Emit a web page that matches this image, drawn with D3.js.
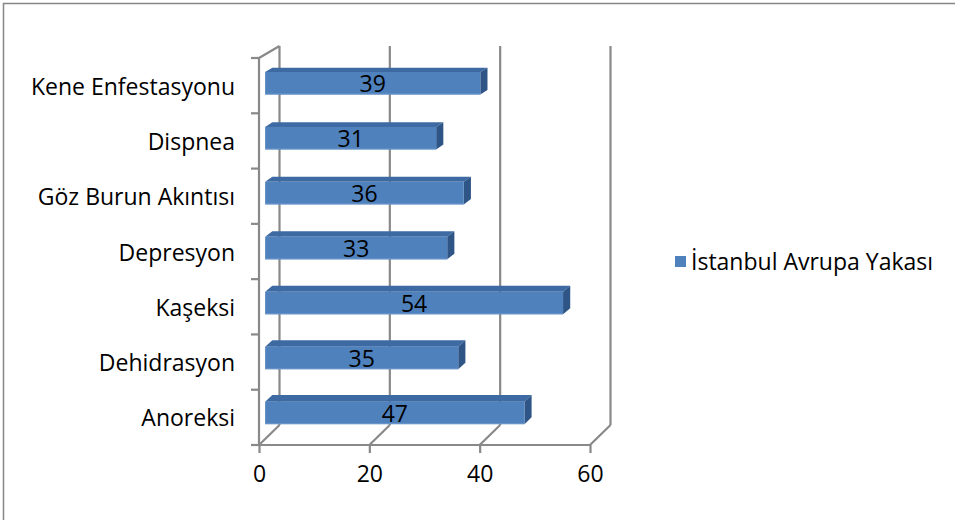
<!DOCTYPE html>
<html>
<head>
<meta charset="utf-8">
<script src="https://cdn.jsdelivr.net/npm/d3@7"></script>
<style>
  body { margin: 0; background: #fff; }
  svg { display: block; font-family: "Open Sans", "Noto Sans", sans-serif; }
</style>
</head>
<body>
<svg id="chart" width="955" height="520"></svg>
<script>
// data (top to bottom)
const categories = ['Kene Enfestasyonu', 'Dispnea', 'Göz Burun Akıntısı', 'Depresyon', 'Kaşeksi', 'Dehidrasyon', 'Anoreksi']
const values = [39, 31, 36, 33, 54, 35, 47]
const xTicks = [0, 20, 40, 60]
const seriesName = 'İstanbul Avrupa Yakası'

const svg = d3.select('#chart')
const gridColor = '#898989'
const fontSize = 23

const x = d3.scaleLinear().domain([0, 60]).range([259, 590])
const y = d3.scaleBand().domain(categories).range([58, 445])

// depth of the 3d box: x shift is constant, y shift grows toward the bottom
const DX = 20.5
function dyAt(yy) {
  return -12 - 8 * (yy - 58) / (445 - 58)
}
function proj(v, yy, t) {
  return [x(v) + t * DX, yy + t * dyAt(yy)]
}

// outer frame
svg.append('rect')
  .attr('x', 3.5).attr('y', 3.5)
  .attr('width', 970).attr('height', 540)
  .attr('fill', 'none').attr('stroke', '#868686').attr('stroke-width', 1.5)

const grid = svg.append('g')
  .attr('stroke', gridColor).attr('stroke-width', 2.2).attr('fill', 'none')

// back wall gridlines
xTicks.forEach(v => {
  const b = proj(v, 445, 1), t = proj(v, 58, 1)
  grid.append('line').attr('x1', b[0]).attr('y1', b[1]).attr('x2', t[0]).attr('y2', t[1])
})
// floor diagonals
xTicks.forEach(v => {
  const f = proj(v, 445, 0), b = proj(v, 445, 1)
  grid.append('line').attr('x1', f[0]).attr('y1', f[1]).attr('x2', b[0]).attr('y2', b[1])
})
// left wall front edge + top diagonal
const lt = proj(0, 58, 0), lb = proj(0, 445, 0), ltb = proj(0, 58, 1)
grid.append('line').attr('x1', lb[0]).attr('y1', lb[1]).attr('x2', lt[0]).attr('y2', lt[1])
grid.append('line').attr('x1', lt[0]).attr('y1', lt[1]).attr('x2', ltb[0]).attr('y2', ltb[1])
// front floor line
grid.append('line').attr('x1', x(0) - 8).attr('y1', 445).attr('x2', x(60)).attr('y2', 445)

// category boundary ticks on the left
const bounds = categories.map(c => y(c)).concat([y.range()[1]])
grid.selectAll('.ltick').data(bounds).join('line')
  .attr('x1', x(0) - 8).attr('x2', x(0))
  .attr('y1', d => d).attr('y2', d => d)

// x axis
const xAxis = svg.append('g')
  .attr('transform', 'translate(0,445)')
  .call(d3.axisBottom(x).tickValues(xTicks).tickSize(8).tickSizeOuter(0).tickPadding(13))
xAxis.select('.domain').remove()
xAxis.selectAll('line').attr('stroke', gridColor).attr('stroke-width', 2.2)
xAxis.selectAll('text').attr('font-size', fontSize).attr('fill', '#000')
  .attr('font-family', '"Open Sans", sans-serif')

// y axis labels
const yAxis = svg.append('g')
  .attr('transform', 'translate(' + (x(0) - 24) + ',0)')
  .call(d3.axisLeft(y).tickSize(0).tickPadding(0))
yAxis.select('.domain').remove()
yAxis.selectAll('text').attr('font-size', fontSize).attr('fill', '#000')
  .attr('font-family', '"Open Sans", sans-serif')
  .attr('dy', '0.35em')
yAxis.selectAll('.tick').attr('transform', d => 'translate(0,' + (y(d) + y.bandwidth() / 2 + 1) + ')')

// bars
const T1 = 0.3, T2 = 0.65
const bw = y.bandwidth()
const bars = svg.append('g')
categories.forEach((c, i) => {
  const v = values[i]
  const yTop = y(c) + 0.32 * bw
  const yBot = yTop + 0.41 * bw
  const ftl = proj(0, yTop, T1), ftr = proj(v, yTop, T1)
  const fbl = proj(0, yBot, T1), fbr = proj(v, yBot, T1)
  const btl = proj(0, yTop, T2), btr = proj(v, yTop, T2)
  const bbr = proj(v, yBot, T2)
  // top face
  bars.append('polygon')
    .attr('points', [ftl, ftr, btr, btl].map(p => p.join(',')).join(' '))
    .attr('fill', '#3D6AA2')
  // right side
  bars.append('polygon')
    .attr('points', [ftr, btr, bbr, fbr].map(p => p.join(',')).join(' '))
    .attr('fill', '#2F5587')
  // front face
  bars.append('rect')
    .attr('x', ftl[0]).attr('y', ftl[1])
    .attr('width', ftr[0] - ftl[0]).attr('height', fbl[1] - ftl[1])
    .attr('fill', '#4F81BD')
  bars.append('line')
    .attr('x1', fbl[0]).attr('x2', fbr[0])
    .attr('y1', fbl[1] - 0.5).attr('y2', fbr[1] - 0.5)
    .attr('stroke', '#6D97CB').attr('stroke-width', 1)
  // value label
  bars.append('text')
    .attr('x', (ftl[0] + ftr[0]) / 2)
    .attr('y', (ftl[1] + fbl[1]) / 2 + 1)
    .attr('dy', '0.35em')
    .attr('text-anchor', 'middle')
    .attr('font-size', fontSize)
    .attr('fill', '#000')
    .text(v)
})

// legend
const legend = svg.append('g').attr('transform', 'translate(675,256)')
legend.append('rect').attr('width', 11).attr('height', 11).attr('fill', '#4F81BD')
legend.append('text')
  .attr('x', 16).attr('y', 6).attr('dy', '0.35em')
  .attr('font-size', fontSize).attr('fill', '#000')
  .text(seriesName)
</script>
</body>
</html>
